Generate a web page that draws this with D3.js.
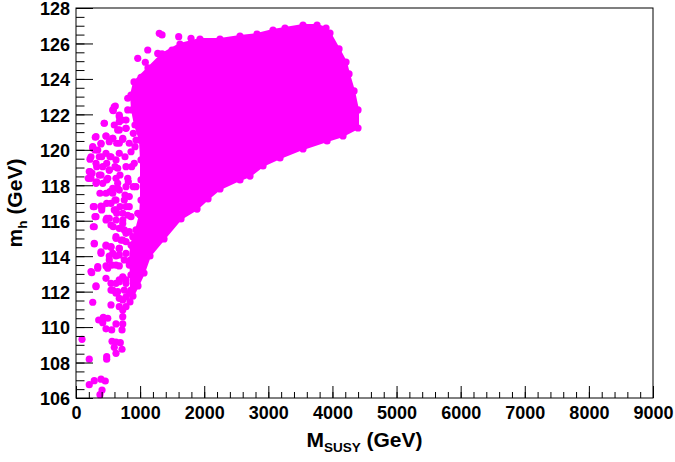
<!DOCTYPE html>
<html>
<head>
<meta charset="utf-8">
<script src="https://cdn.jsdelivr.net/npm/d3@7"></script>
<style>
  body { margin: 0; background: #fff; }
  text { font-family: "Liberation Sans", Arial, sans-serif; font-weight: bold; }
</style>
</head>
<body>
<script>
const WIDTH = 675
const HEIGHT = 462
const LEFT = 76, RIGHT = 653, TOP = 8, BOTTOM = 398
const MAGENTA = '#ff00ff'

// tick labels
const xTickValues = [0, 1000, 2000, 3000, 4000, 5000, 6000, 7000, 8000, 9000]
const yTickValues = [106, 108, 110, 112, 114, 116, 118, 120, 122, 124, 126, 128]

// outline of the dense core of the scan (centres of the edge points)
const coreMsusy = [905, 1123, 1342, 1622, 1934, 2246, 2558, 2824, 3073, 3260, 3541, 3760, 3900, 3962, 4103,
  4212, 4259, 4337, 4399, 4399, 4165, 3916, 3541, 3182, 2917, 2714, 2558, 2246, 2059, 1888,
  1638, 1373, 1154, 1061, 967, 889, 842, 858, 858, 842, 858, 936, 998, 1014, 1014, 1014, 998, 920, 874, 858]
const coreMh = [123.83, 124.62, 125.41, 125.97, 126.25, 126.25, 126.42, 126.53, 126.76, 126.87, 127.04, 127.04, 126.87, 126.59, 125.69,
  124.95, 124.28, 123.32, 122.25, 121.23, 120.78, 120.50, 120.05, 119.54, 119.09, 118.52, 118.30, 117.79, 117.23, 116.66,
  116.10, 114.97, 114.01, 113.05, 112.32, 111.75, 111.42, 112.09, 112.94, 113.77, 114.63, 115.48, 116.32, 117.17, 118.30, 119.43, 120.55, 121.40, 122.25, 123.09]

// scattered points on the low-M_SUSY side
const looseMsusy = [1299, 1342, 1602, 1794, 1119, 963, 1081, 1275, 1498, 1014, 807, 613, 582, 675, 718,
  441, 597, 675, 780, 301, 468, 573, 729, 390, 261, 894, 296, 218, 401, 635,
  920, 218, 192, 323, 479, 608, 530, 764, 323, 479, 686, 816, 374, 530, 608,
  479, 270, 401, 686, 296, 479, 635, 270, 582, 764, 894, 869, 250, 390, 519,
  573, 675, 650, 390, 624, 624, 729, 675, 753, 831, 624, 702, 780, 285, 468,
  546, 390, 519, 624, 675, 780, 885, 831, 339, 468, 562, 675, 807, 885, 780,
  831, 963, 729, 780, 675, 624, 831, 780, 729, 780, 675, 729, 245, 312, 261,
  546, 651, 546, 729, 354, 426, 495, 417, 468, 557, 624, 729, 718, 94, 562,
  624, 691, 597, 718, 624, 479, 479, 207, 285, 390, 457, 207, 406, 374]
const looseMh = [126.57, 126.48, 126.38, 126.29, 125.63, 125.16, 124.94, 125.44, 125.63, 124.09, 122.91, 122.47, 122.21, 121.87, 121.68,
  121.50, 121.40, 121.12, 121.21, 120.71, 120.78, 120.65, 120.59, 120.33, 120.18, 120.93, 119.99, 119.47, 119.61, 120.37,
  120.18, 118.77, 118.39, 119.05, 119.24, 119.05, 119.61, 119.61, 118.20, 118.30, 118.58, 118.20, 117.55, 117.64, 117.17,
  116.98, 116.79, 116.61, 116.79, 116.23, 116.14, 116.42, 115.66, 115.66, 117.45, 117.92, 119.05, 118.68, 118.58, 118.86,
  117.83, 117.73, 118.11, 116.83, 116.61, 116.04, 116.04, 115.57, 115.48, 115.38, 115.01, 114.91, 114.82, 114.69, 114.57,
  114.50, 114.16, 114.01, 114.01, 114.44, 114.16, 114.53, 113.69, 113.41, 113.45, 113.50, 113.45, 116.31, 115.10, 116.79,
  117.36, 116.42, 112.84, 112.66, 112.56, 112.47, 111.91, 111.71, 111.53, 111.15, 111.15, 110.96, 113.07, 112.32, 111.40,
  112.09, 112.00, 111.25, 110.59, 110.40, 110.55, 110.50, 110.25, 109.90, 109.84, 110.18, 110.18, 109.84, 109.31, 109.20,
  109.16, 109.12, 108.86, 108.75, 108.52, 108.33, 108.19, 108.19, 106.98, 107.06, 106.96, 106.75, 106.45, 106.19]

// more points in the crowded fringe just left of the core
const fringeMsusy = [597, 573, 675, 807, 441, 675, 780, 650, 780, 312, 468, 573, 729, 936, 390,
  519, 675, 831, 261, 339, 234, 363, 468, 546, 675, 858, 624, 312, 417, 207,
  519, 650, 780, 909, 363, 234, 495, 624, 807, 312, 417, 650, 780, 468, 573,
  936, 285, 406, 546, 624, 753, 597, 831, 312, 468, 519, 729, 858, 285, 546,
  729, 780, 624, 729, 285, 468, 546, 675, 390, 573, 675, 519, 753, 339, 234,
  495, 624, 831, 468, 312, 546, 675, 780, 573, 624, 753, 675]
const fringeMh = [122.43, 122.25, 121.96, 122.25, 121.50, 121.59, 121.68, 121.12, 121.21, 120.74, 120.78, 120.65, 120.65, 120.55, 120.37,
  120.46, 120.37, 120.37, 120.09, 119.99, 119.61, 119.61, 119.80, 119.61, 119.80, 119.89, 119.43, 119.24, 119.05, 118.77,
  118.86, 118.96, 119.05, 119.24, 118.58, 118.39, 118.39, 118.39, 118.39, 118.11, 118.11, 117.83, 117.92, 117.55, 117.55,
  117.92, 116.79, 116.79, 116.98, 117.17, 117.17, 116.61, 116.79, 116.23, 116.04, 116.14, 116.42, 116.23, 115.66, 115.76,
  115.85, 115.29, 115.10, 114.91, 114.73, 114.63, 114.54, 114.44, 114.25, 114.16, 114.07, 113.79, 113.79, 113.32, 113.13,
  113.32, 113.50, 113.50, 112.75, 112.28, 112.47, 112.66, 112.47, 112.09, 111.91, 112.09, 111.62]

const svg = d3.select('body').append('svg').attr('width', WIDTH).attr('height', HEIGHT)

const x = d3.scaleLinear().domain([0, 9000]).range([LEFT, RIGHT])
const y = d3.scaleLinear().domain([106, 128]).range([BOTTOM, TOP])

const R = 3.6

// dense core: filled outline + the edge points themselves
const core = coreMsusy.map((m, i) => [m, coreMh[i]])
const line = d3.line().x(d => x(d[0])).y(d => y(d[1]))
svg.append('path')
    .attr('d', line(core) + 'Z')
    .attr('fill', MAGENTA)
    .attr('stroke', MAGENTA)
    .attr('stroke-width', 2)
    .attr('stroke-linejoin', 'round')

const loose = looseMsusy.map((m, i) => [m, looseMh[i]])
const fringe = fringeMsusy.map((m, i) => [m, fringeMh[i]])
svg.append('g').selectAll('circle')
    .data(core.concat(loose, fringe))
    .enter()
    .append('circle')
    .attr('cx', d => x(d[0]))
    .attr('cy', d => y(d[1]))
    .attr('r', R)
    .attr('fill', MAGENTA)

// axes, ticks drawn inside the frame (ROOT style)
const xMajor = d3.axisBottom(x).tickValues(xTickValues).tickFormat(d3.format('d')).tickSize(-12).tickPadding(8)
const xMinor = d3.axisBottom(x).tickValues(x.ticks(45)).tickSize(-6).tickFormat('')
const yMajor = d3.axisLeft(y).tickValues(yTickValues).tickSize(-17).tickPadding(6)
const yMinor = d3.axisLeft(y).tickValues(y.ticks(44)).tickSize(-8.5).tickFormat('')

function style(g) {
  g.select('.domain').remove()
  g.selectAll('line').attr('stroke', '#000')
  g.selectAll('text').attr('fill', '#000').attr('font-size', 18)
    .attr('font-family', '"Liberation Sans", Arial, sans-serif').attr('font-weight', 'bold')
}

svg.append('g').attr('transform', `translate(0, ${BOTTOM})`).call(xMinor).call(style)
svg.append('g').attr('transform', `translate(0, ${BOTTOM})`).call(xMajor).call(style)
svg.append('g').attr('transform', `translate(${LEFT}, 0)`).call(yMinor).call(style)
svg.append('g').attr('transform', `translate(${LEFT}, 0)`).call(yMajor).call(style)
  .selectAll('text').attr('dy', '0.38em')

// frame
svg.append('rect')
    .attr('x', LEFT).attr('y', TOP)
    .attr('width', RIGHT - LEFT).attr('height', BOTTOM - TOP)
    .attr('fill', 'none').attr('stroke', '#000').attr('stroke-width', 1)

// axis titles
const xt = svg.append('text')
    .attr('x', (LEFT + RIGHT) / 2).attr('y', 447)
    .attr('text-anchor', 'middle').attr('font-size', 21)
xt.append('tspan').text('M')
xt.append('tspan').attr('font-size', 13.5).attr('dy', 5).text('SUSY')
xt.append('tspan').attr('dy', -5).text(' (GeV)')

const yt = svg.append('text')
    .attr('transform', `translate(22, ${(TOP + BOTTOM) / 2}) rotate(-90)`)
    .attr('text-anchor', 'middle').attr('font-size', 21)
yt.append('tspan').text('m')
yt.append('tspan').attr('font-size', 13.5).attr('dy', 5).text('h')
yt.append('tspan').attr('dy', -5).text(' (GeV)')
</script>
</body>
</html>
